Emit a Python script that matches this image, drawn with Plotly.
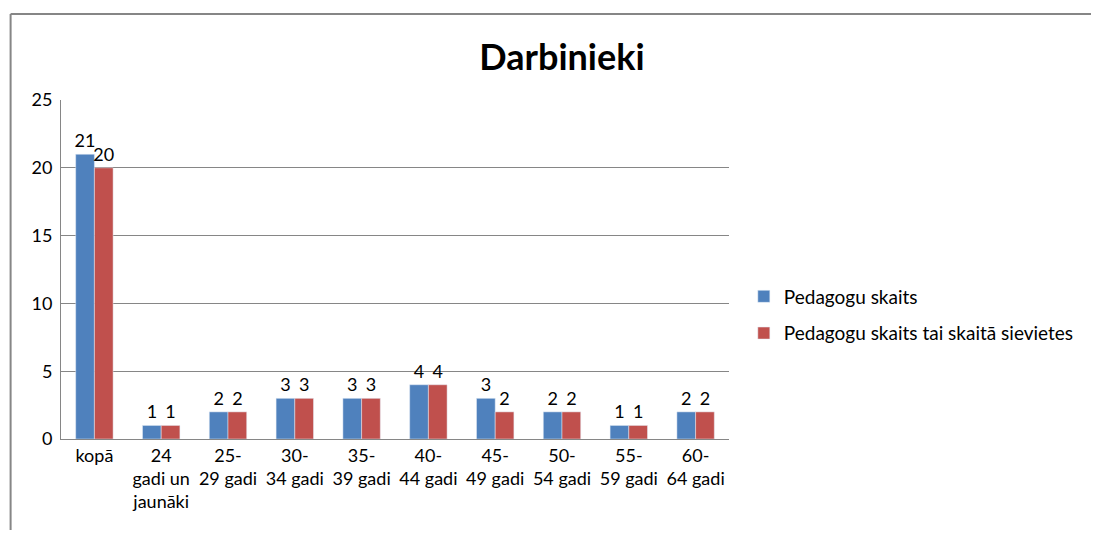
import plotly.graph_objects as go

categories = ["kopā", "24<br>gadi un<br>jaunāki", "25-<br>29 gadi", "30-<br>34 gadi", "35-<br>39 gadi",
              "40-<br>44 gadi", "45-<br>49 gadi", "50-<br>54 gadi", "55-<br>59 gadi", "60-<br>64 gadi"]
pedagogi = [21, 1, 2, 3, 3, 4, 3, 2, 1, 2]
sievietes = [20, 1, 2, 3, 3, 4, 2, 2, 1, 2]
y_ticks = [0, 5, 10, 15, 20, 25]

FONT = "Lato"
OFF = 8  # page body margin
W, H = 1099 - 2 * OFF, 538 - 2 * OFF
L, T = 61 - OFF, 100 - OFF
R = W - (737 - OFF)
B = H - (439 - OFF)
pw, ph = W - L - R, H - T - B

def px_x(x):  # page pixel -> paper x
    return (x - OFF - L) / pw

def px_y(y):  # page pixel -> paper y
    return 1 - (y - OFF - T) / ph

fig = go.Figure()
fig.add_trace(go.Bar(x=categories, y=pedagogi, name="Pedagogu skaits", marker_color="#4F81BD",
                     legendgroup="a", text=pedagogi, textposition="outside", cliponaxis=False,
                     constraintext="none",
                     textfont=dict(size=18, color="#000000", family=FONT)))
fig.add_trace(go.Bar(x=categories, y=sievietes, name="Pedagogu skaits tai skaitā sievietes",
                     legendgroup="b", marker_color="#C0504D", text=sievietes, textposition="outside",
                     cliponaxis=False, constraintext="none",
                     textfont=dict(size=18, color="#000000", family=FONT)))

fx = px_x(10)
fy = px_y(14)
fig.update_layout(
    width=W, height=H,
    margin=dict(l=L, r=R, t=T, b=B),
    paper_bgcolor="white", plot_bgcolor="white",
    barmode="group", bargap=0.44, bargroupgap=0,
    uniformtext=dict(mode=False),
    font=dict(family=FONT, size=18, color="#000000"),
    title=dict(text="<b>Darbinieki</b>", x=(562 - OFF) / W, xref="container", xanchor="center",
               y=1 - (57 - OFF) / H, yref="container", yanchor="middle",
               font=dict(size=36, family=FONT, color="#000000")),
    legend=dict(x=px_x(752), xanchor="left", y=px_y(315), yanchor="middle",
                font=dict(size=19, family=FONT, color="#000000"), tracegroupgap=9,
                bgcolor="rgba(0,0,0,0)"),
    xaxis=dict(showline=True, linecolor="#868686", linewidth=1, ticks="", showgrid=False,
               tickfont=dict(size=18, family=FONT, color="#000000")),
    yaxis=dict(range=[0, 25], tickvals=y_ticks, showgrid=True, gridcolor="#868686", gridwidth=1,
               showline=True, linecolor="#868686", linewidth=1, ticks="", zeroline=False,
               ticklabelstandoff=4,
               tickfont=dict(size=18, family=FONT, color="#000000")),
    shapes=[
        dict(type="line", xref="paper", yref="paper", x0=fx, x1=fx, y0=-0.5, y1=fy,
             line=dict(color="#868686", width=2)),
        dict(type="line", xref="paper", yref="paper", x0=fx, x1=2.0, y0=fy, y1=fy,
             line=dict(color="#868686", width=2)),
    ],
)
fig.write_html("out.html")
